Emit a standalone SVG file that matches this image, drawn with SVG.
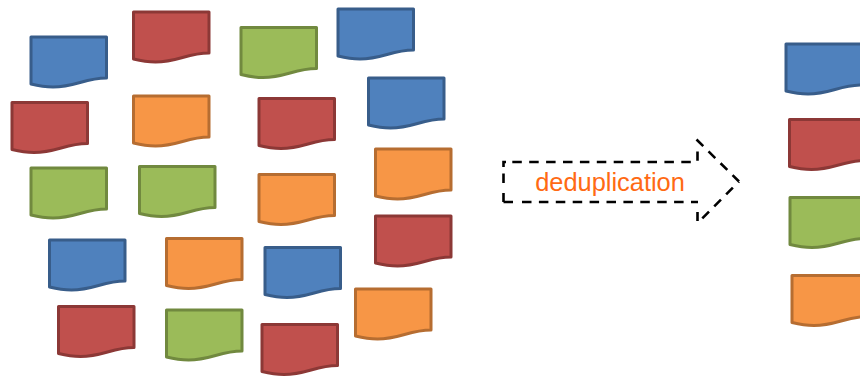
<svg xmlns="http://www.w3.org/2000/svg" width="860" height="377" viewBox="0 0 860 377">
<style>
.doc{stroke-width:3;stroke-linejoin:round}
.b{fill:#4f81bd;stroke:#385d8a}
.r{fill:#c0504d;stroke:#8c3836}
.g{fill:#9bbb59;stroke:#71893f}
.o{fill:#f79646;stroke:#b66d31}
.arrow{fill:none;stroke:#000;stroke-width:2.6;stroke-dasharray:9.500 7.400}
.label{font-family:"Liberation Sans",Arial,sans-serif;font-size:25.4px;fill:#ff6a13;text-anchor:middle}
</style>
<defs>
<path id="d" d="M0 0H75.500V41C54 41 44 50 22 50C13 50 6 48.500 0 47Z"/>
</defs>
<g id="n1"><use href="#d" class="doc b" x="31" y="37"/></g>
<g id="n2"><use href="#d" class="doc r" x="133.500" y="12"/></g>
<g id="n3"><use href="#d" class="doc g" x="241" y="27.500"/></g>
<g id="n4"><use href="#d" class="doc b" x="338" y="9"/></g>
<g id="n5"><use href="#d" class="doc r" x="12" y="102.500"/></g>
<g id="n6"><use href="#d" class="doc o" x="133.500" y="96"/></g>
<g id="n7"><use href="#d" class="doc r" x="259" y="98.500"/></g>
<g id="n8"><use href="#d" class="doc b" x="368.500" y="78"/></g>
<g id="n9"><use href="#d" class="doc g" x="31" y="168"/></g>
<g id="n10"><use href="#d" class="doc g" x="139.500" y="166.500"/></g>
<g id="n11"><use href="#d" class="doc o" x="259" y="174.500"/></g>
<g id="n12"><use href="#d" class="doc o" x="375.500" y="149"/></g>
<g id="n13"><use href="#d" class="doc b" x="49.500" y="240"/></g>
<g id="n14"><use href="#d" class="doc o" x="166.500" y="238.500"/></g>
<g id="n15"><use href="#d" class="doc b" x="265" y="247.500"/></g>
<g id="n16"><use href="#d" class="doc r" x="375.500" y="216"/></g>
<g id="n17"><use href="#d" class="doc r" x="58.500" y="306.500"/></g>
<g id="n18"><use href="#d" class="doc g" x="166.500" y="310"/></g>
<g id="n19"><use href="#d" class="doc r" x="262" y="324.500"/></g>
<g id="n20"><use href="#d" class="doc o" x="355.500" y="289"/></g>
<g id="n21"><use href="#d" class="doc b" x="786" y="44"/></g>
<g id="n22"><use href="#d" class="doc r" x="789.500" y="119.500"/></g>
<g id="n23"><use href="#d" class="doc g" x="790" y="197.500"/></g>
<g id="n24"><use href="#d" class="doc o" x="792" y="275.500"/></g>
<g id="connectors">
<g id="dedup-arrow">
<path class="arrow" d="M503.500 167V162H506M512.300 162H692M697.500 160.700V151.500M696.500 139.500L739 181.500M702.300 218.300L739 181.500M697.500 212V221M522 202H698M503.500 202H513M503.500 202V193M503.500 183V173"/>
<text class="label" x="610" y="191">deduplication</text>
</g>
</g>
</svg>
